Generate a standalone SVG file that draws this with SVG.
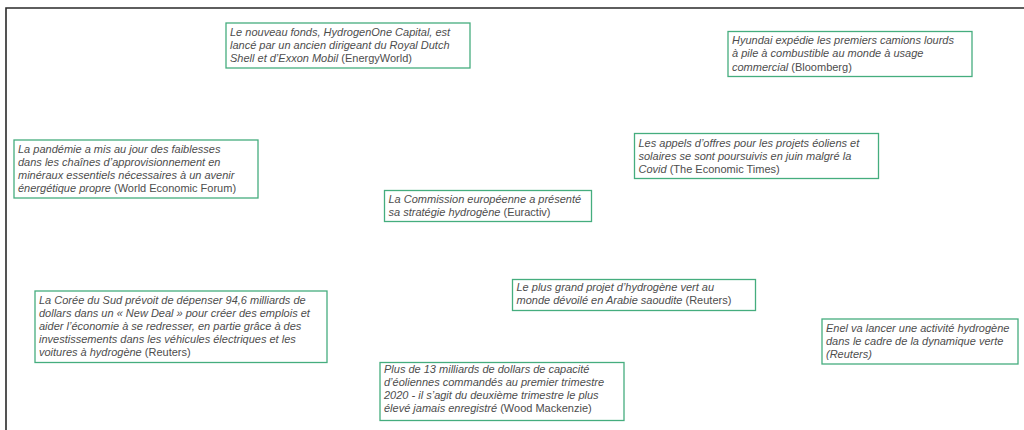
<svg xmlns="http://www.w3.org/2000/svg" width="1024" height="430" viewBox="0 0 1024 430">
<style>
.box{fill:#ffffff;stroke:#45ad7e;stroke-width:1.3}
.t{font-family:"Liberation Sans","DejaVu Sans",sans-serif;font-size:11px;font-style:italic;fill:#4d4d4d}
.s{font-style:normal}
.frame{fill:none;stroke:#2a2a2a;stroke-width:1.6}
</style>
<rect width="1024" height="430" fill="#ffffff"/>
<path class="frame" d="M6,430 V8 H1024"/>
<g id="connectors"/>
<g id="n1">
<rect class="box" x="226" y="23" width="244" height="45"/>
<text class="t" x="230" y="35.5">Le nouveau fonds, HydrogenOne Capital, est</text>
<text class="t" x="230" y="48.5">lancé par un ancien dirigeant du Royal Dutch</text>
<text class="t" x="230" y="61.5">Shell et d’Exxon Mobil <tspan class="s">(EnergyWorld)</tspan></text>
</g>
<g id="n2">
<rect class="box" x="728" y="31.5" width="244" height="45"/>
<text class="t" x="732" y="44">Hyundai expédie les premiers camions lourds</text>
<text class="t" x="732" y="57">à pile à combustible au monde à usage</text>
<text class="t" x="732" y="70.5">commercial <tspan class="s">(Bloomberg)</tspan></text>
</g>
<g id="n3">
<rect class="box" x="14" y="140" width="244" height="58"/>
<text class="t" x="18" y="152.5">La pandémie a mis au jour des faiblesses</text>
<text class="t" x="18" y="165.5">dans les chaînes d’approvisionnement en</text>
<text class="t" x="18" y="178.5">minéraux essentiels nécessaires à un avenir</text>
<text class="t" x="18" y="192">énergétique propre <tspan class="s">(World Economic Forum)</tspan></text>
</g>
<g id="n4">
<rect class="box" x="384.5" y="190.5" width="207" height="31"/>
<text class="t" x="388.5" y="202.5">La Commission européenne a présenté</text>
<text class="t" x="388.5" y="215.5">sa stratégie hydrogène <tspan class="s">(Euractiv)</tspan></text>
</g>
<g id="n5">
<rect class="box" x="634.5" y="133.5" width="244" height="45"/>
<text class="t" x="638.5" y="146.5">Les appels d’offres pour les projets éoliens et</text>
<text class="t" x="638.5" y="159.5">solaires se sont poursuivis en juin malgré la</text>
<text class="t" x="638.5" y="172.5">Covid <tspan class="s">(The Economic Times)</tspan></text>
</g>
<g id="n6">
<rect class="box" x="35" y="291" width="292" height="71.5"/>
<text class="t" x="39" y="303.5">La Corée du Sud prévoit de dépenser 94,6 milliards de</text>
<text class="t" x="39" y="316.5">dollars dans un « New Deal » pour créer des emplois et</text>
<text class="t" x="39" y="329.5">aider l’économie à se redresser, en partie grâce à des</text>
<text class="t" x="39" y="342.5">investissements dans les véhicules électriques et les</text>
<text class="t" x="39" y="355.5">voitures à hydrogène <tspan class="s">(Reuters)</tspan></text>
</g>
<g id="n7">
<rect class="box" x="512.5" y="279.5" width="243" height="31"/>
<text class="t" x="516.5" y="290.5">Le plus grand projet d’hydrogène vert au</text>
<text class="t" x="516.5" y="303.5">monde dévoilé en Arabie saoudite <tspan class="s">(Reuters)</tspan></text>
</g>
<g id="n8">
<rect class="box" x="380" y="362.5" width="244" height="58"/>
<text class="t" x="384" y="373">Plus de 13 milliards de dollars de capacité</text>
<text class="t" x="384" y="386">d’éoliennes commandés au premier trimestre</text>
<text class="t" x="384" y="399">2020 - il s’agit du deuxième trimestre le plus</text>
<text class="t" x="384" y="412">élevé jamais enregistré <tspan class="s">(Wood Mackenzie)</tspan></text>
</g>
<g id="n9">
<rect class="box" x="822" y="319" width="196" height="45"/>
<text class="t" x="826" y="331.5">Enel va lancer une activité hydrogène</text>
<text class="t" x="826" y="344.5">dans le cadre de la dynamique verte</text>
<text class="t" x="826" y="357.5">(Reuters)</text>
</g>
</svg>
